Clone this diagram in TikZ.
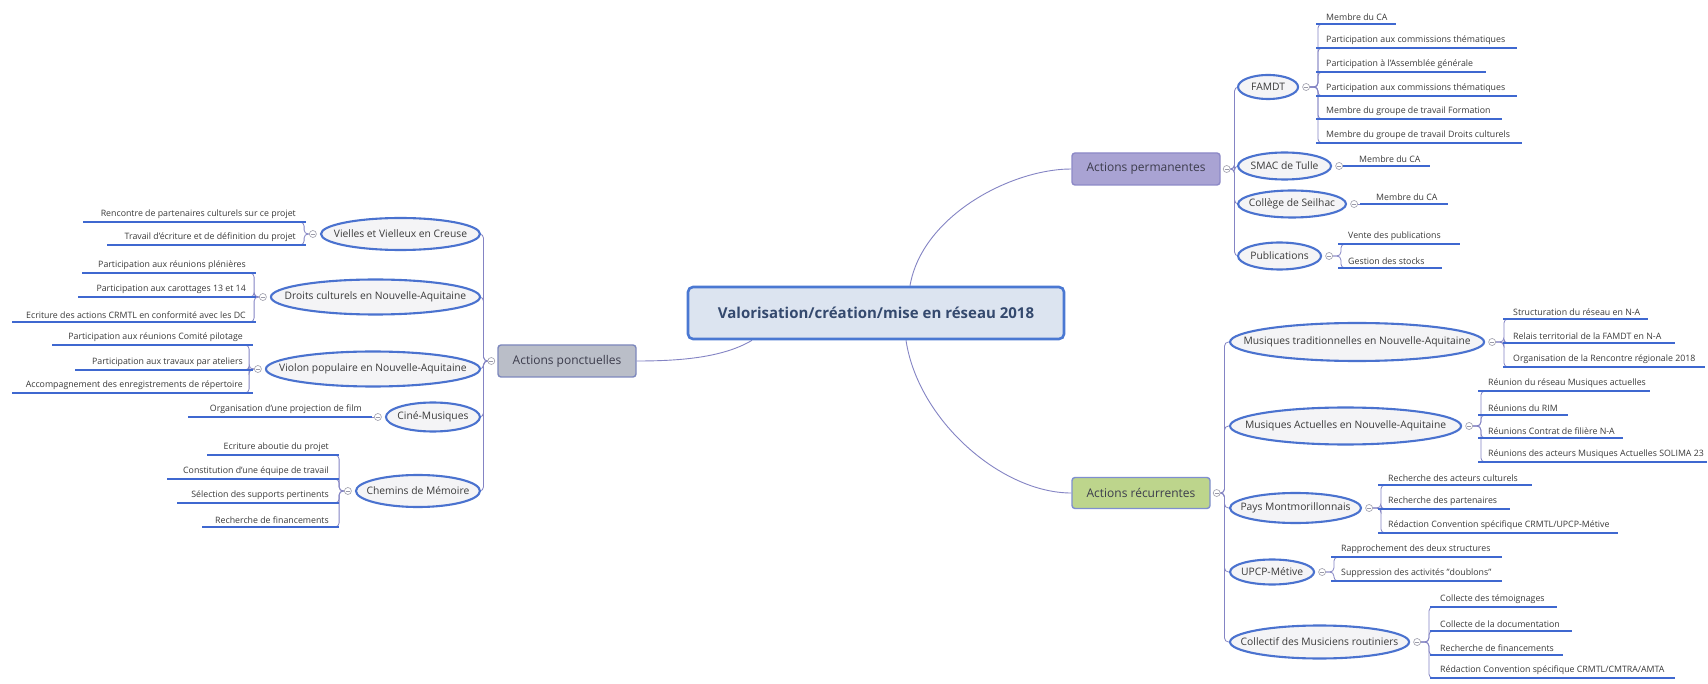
\documentclass[tikz,border=0pt]{standalone}
\usepackage{fontspec}
\setmainfont{Open Sans}
\usetikzlibrary{shapes.geometric}
\definecolor{ellblue}{HTML}{4A72CF}
\definecolor{ulblue}{HTML}{3F68D0}
\definecolor{connc}{HTML}{8484C4}
\definecolor{collgray}{HTML}{9A9AA8}
\definecolor{ellfill}{HTML}{F4F4F6}
\definecolor{cfill}{HTML}{DCE4F0}
\definecolor{cdraw}{HTML}{4A78D2}
\definecolor{ctext}{HTML}{34496E}
\definecolor{permfill}{HTML}{A9A3D3}
\definecolor{permdraw}{HTML}{8D89C7}
\definecolor{recfill}{HTML}{BDD58C}
\definecolor{recdraw}{HTML}{7F8FCF}
\definecolor{ponfill}{HTML}{BABEC8}
\definecolor{pondraw}{HTML}{7D88BD}
\definecolor{btext}{HTML}{3C3C4C}
\definecolor{ltext}{HTML}{3A3A3A}
\pgfdeclarelayer{back}
\pgfdeclarelayer{bg}
\pgfsetlayers{back,bg,main}
\newcommand\zb[1]{\makebox[0pt]{#1}}
\newcommand\leafR[5]{%
  \node[leaf, anchor=south west] (#1) at (#2+8,#4) {#5};
  \draw[uline] (#2,#4) -- (#3,#4);}
\newcommand\leafL[5]{%
  \node[leaf, anchor=south east] (#1) at (#3-8,#4) {#5};
  \draw[uline] (#2,#4) -- (#3,#4);}
\begin{document}
\begin{tikzpicture}[x=1pt,y=-1pt,
  central/.style={draw=cdraw, line width=2.6pt, fill=cfill, rounded corners=5pt,
    minimum width=376pt, minimum height=52pt, inner sep=0pt,
    font=\fontsize{15}{18}\selectfont\bfseries, text=ctext},
  branch/.style={line width=1.4pt, rounded corners=3pt, inner sep=0pt,
    font=\fontsize{12}{14}\selectfont, text=btext},
  ell/.style={ellipse, draw=ellblue, line width=2.1pt, fill=ellfill, inner sep=0pt,
    font=\fontsize{10.3}{12}\selectfont, text=ltext},
  leaf/.style={inner xsep=2pt, inner ysep=3.5pt, font=\fontsize{8.8}{10}\selectfont, text=ltext},
  uline/.style={draw=ulblue, line width=1.8pt},
  conn/.style={draw=connc, line width=0.8pt, rounded corners=4pt},
  mconn/.style={draw=connc, line width=0.9pt},
  coll/.style={circle, draw=collgray, fill=white, line width=0.6pt, minimum size=7pt, inner sep=0pt,
    path picture={\draw[collgray, line width=0.5pt] ([xshift=-2pt]path picture bounding box.center) -- ([xshift=2pt]path picture bounding box.center);}}
]
\useasboundingbox (0,0) rectangle (1708,684);
\begin{pgfonlayer}{back}
\fill[white] (0,0) rectangle (1708,684);
\end{pgfonlayer}

% central and main branches
\node[central] (c) at (876,313) {Valorisation/création/mise en réseau 2018};
\node[branch, draw=permdraw, fill=permfill, minimum width=148pt, minimum height=32pt] (ap) at (1146,169) {Actions permanentes};
\node[branch, draw=recdraw, fill=recfill, minimum width=138pt, minimum height=31pt] (ar) at (1141,493) {Actions récurrentes};
\node[branch, draw=pondraw, fill=ponfill, minimum width=138pt, minimum height=32pt] (apn) at (567,361) {Actions ponctuelles};
\node[coll] (apc) at ([xshift=6pt]ap.east) {};
\node[coll] (arc) at ([xshift=6pt]ar.east) {};
\node[coll] (apnc) at ([xshift=-6pt]apn.west) {};

% ---- Actions permanentes children
\node[ell, minimum width=60pt, minimum height=24pt, anchor=west] (famdt) at (1237,87) {\zb{FAMDT}};
\node[ell, minimum width=93pt, minimum height=27pt, anchor=west] (smac) at (1237,166) {\zb{SMAC de Tulle}};
\node[ell, minimum width=108pt, minimum height=27pt, anchor=west] (coll) at (1237,204) {\zb{Collège de Seilhac}};
\node[ell, minimum width=83pt, minimum height=27pt, anchor=west] (pub) at (1237,256) {\zb{Publications}};
\foreach \e in {famdt,smac,coll,pub} \node[coll] (\e c) at ([xshift=7pt]\e.east) {};

\leafR{f1}{1316}{1396}{24}{Membre du CA}
\leafR{f2}{1316}{1517}{48}{Participation aux commissions thématiques}
\leafR{f3}{1316}{1486}{72}{Participation à l'Assemblée générale}
\leafR{f4}{1316}{1517}{96}{Participation aux commissions thématiques}
\leafR{f5}{1316}{1502}{119}{Membre du groupe de travail Formation}
\leafR{f6}{1316}{1522}{143}{Membre du groupe de travail Droits culturels}
\leafR{s1}{1343}{1430}{166}{\hspace{6pt}Membre du CA}
\leafR{k1}{1360}{1448}{204}{\hspace{6pt}Membre du CA}
\leafR{p1}{1338}{1460}{244}{Vente des publications}
\leafR{p2}{1338}{1442}{268}{Gestion des stocks}

% ---- Actions récurrentes children
\node[ell, minimum width=254pt, minimum height=38pt, anchor=west] (mt) at (1229,342) {\zb{Musiques traditionnelles en Nouvelle-Aquitaine}};
\node[ell, minimum width=231pt, minimum height=37pt, anchor=west] (ma) at (1229,426) {\zb{Musiques Actuelles en Nouvelle-Aquitaine}};
\node[ell, minimum width=131pt, minimum height=30pt, anchor=west] (pm) at (1229,508) {\zb{Pays Montmorillonnais}};
\node[ell, minimum width=84pt, minimum height=25pt, anchor=west] (up) at (1229,572) {\zb{UPCP-Métive}};
\node[ell, minimum width=179pt, minimum height=33pt, anchor=west] (cm) at (1229,642) {\zb{Collectif des Musiciens routiniers}};
\foreach \e in {mt,ma,pm,up,cm} \node[coll] (\e c) at ([xshift=7pt]\e.east) {};

\leafR{mt1}{1503}{1648}{319}{Structuration du réseau en N-A}
\leafR{mt2}{1503}{1675}{343}{Relais territorial de la FAMDT en N-A}
\leafR{mt3}{1503}{1705}{367}{Organisation de la Rencontre régionale 2018}
\leafR{ma1}{1478}{1650}{391}{Réunion du réseau Musiques actuelles}
\leafR{ma2}{1478}{1568}{415}{Réunions du RIM}
\leafR{ma3}{1478}{1623}{438}{Réunions Contrat de filière N-A}
\leafR{ma4}{1478}{1707}{462}{Réunions des acteurs Musiques Actuelles SOLIMA 23}
\leafR{pm1}{1378}{1532}{485}{Recherche des acteurs culturels}
\leafR{pm2}{1378}{1510}{509}{Recherche des partenaires}
\leafR{pm3}{1378}{1618}{533}{Rédaction Convention spécifique CRMTL/UPCP-Métive}
\leafR{up1}{1331}{1502}{557}{Rapprochement des deux structures}
\leafR{up2}{1331}{1502}{581}{Suppression des activités "doublons"}
\leafR{cm1}{1430}{1557}{607}{Collecte des témoignages}
\leafR{cm2}{1430}{1572}{631}{Collecte de la documentation}
\leafR{cm3}{1430}{1563}{655}{Recherche de financements}
\leafR{cm4}{1430}{1675}{678}{Rédaction Convention spécifique CRMTL/CMTRA/AMTA}

% ---- Actions ponctuelles children
\node[ell, minimum width=159pt, minimum height=32pt, anchor=east] (vv) at (481,234) {\zb{Vielles et Vielleux en Creuse}};
\node[ell, minimum width=209pt, minimum height=35pt, anchor=east] (dc) at (481,297) {\zb{Droits culturels en Nouvelle-Aquitaine}};
\node[ell, minimum width=214pt, minimum height=35pt, anchor=east] (vp) at (481,369) {\zb{Violon populaire en Nouvelle-Aquitaine}};
\node[ell, minimum width=94pt, minimum height=29pt, anchor=east] (cn) at (481,417) {\zb{Ciné-Musiques}};
\node[ell, minimum width=124pt, minimum height=32pt, anchor=east] (ch) at (481,491) {\zb{Chemins de Mémoire}};
\foreach \e in {vv,dc,vp,cn,ch} \node[coll] (\e c) at ([xshift=-7pt]\e.west) {};

\leafL{vv1}{83}{306}{222}{Rencontre de partenaires culturels sur ce projet}
\leafL{vv2}{107}{306}{245}{Travail d'écriture et de définition du projet}
\leafL{dc1}{82}{256}{273}{Participation aux réunions plénières}
\leafL{dc2}{78}{256}{297}{Participation aux carottages 13 et 14}
\leafL{dc3}{12}{256}{322}{Ecriture des actions CRMTL en conformité avec les DC}
\leafL{vp1}{52}{253}{345}{Participation aux réunions Comité pilotage}
\leafL{vp2}{75}{253}{370}{Participation aux travaux par ateliers}
\leafL{vp3}{12}{253}{393}{Accompagnement des enregistrements de répertoire}
\leafL{cn1}{188}{372}{417}{Organisation d'une projection de film\hspace{12pt}}
\leafL{ch1}{207}{339}{455}{Ecriture aboutie du projet}
\leafL{ch2}{167}{339}{479}{Constitution d'une équipe de travail}
\leafL{ch3}{177}{339}{503}{Sélection des supports pertinents}
\leafL{ch4}{202}{339}{527}{Recherche de financements}

% ---- connectors
\begin{pgfonlayer}{bg}
\draw[mconn] ([xshift=34pt]c.north) .. controls +(12,-70) and +(-60,0) .. (ap.west);
\draw[mconn] ([xshift=30pt]c.south) .. controls +(12,80) and +(-70,0) .. (ar.west);
\draw[mconn] ([xshift=-124pt]c.south) .. controls +(-30,18) and +(40,0) .. (apn.east);
\foreach \e in {famdt,smac,coll,pub} \draw[conn] (apc.east) -- ++(4,0) |- (\e.west);
\foreach \e in {mt,ma,pm,up,cm} \draw[conn] (arc.east) -- ++(4,0) |- (\e.west);
\foreach \e in {vv,dc,vp,cn,ch} \draw[conn] (apnc.west) -- ++(-4,0) |- (\e.east);
\foreach \l in {f1,f2,f3,f4,f5,f6} \draw[conn] (famdtc.east) -- ++(8,0) |- (\l.south west);
\draw[conn] (smacc.east) -- (s1.south west);
\draw[conn] (collc.east) -- (k1.south west);
\foreach \l in {p1,p2} \draw[conn] (pubc.east) -- ++(8,0) |- (\l.south west);
\foreach \l in {mt1,mt2,mt3} \draw[conn] (mtc.east) -- ++(8,0) |- (\l.south west);
\foreach \l in {ma1,ma2,ma3,ma4} \draw[conn] (mac.east) -- ++(8,0) |- (\l.south west);
\foreach \l in {pm1,pm2,pm3} \draw[conn] (pmc.east) -- ++(8,0) |- (\l.south west);
\foreach \l in {up1,up2} \draw[conn] (upc.east) -- ++(8,0) |- (\l.south west);
\foreach \l in {cm1,cm2,cm3,cm4} \draw[conn] (cmc.east) -- ++(8,0) |- (\l.south west);
\foreach \l in {vv1,vv2} \draw[conn] (vvc.west) -- ++(-5,0) |- (\l.south east);
\foreach \l in {dc1,dc2,dc3} \draw[conn] (dcc.west) -- ++(-5,0) |- (\l.south east);
\foreach \l in {vp1,vp2,vp3} \draw[conn] (vpc.west) -- ++(-5,0) |- (\l.south east);
\draw[conn] (cnc.west) -- (cn1.south east);
\foreach \l in {ch1,ch2,ch3,ch4} \draw[conn] (chc.west) -- ++(-5,0) |- (\l.south east);
\end{pgfonlayer}
\end{tikzpicture}
\end{document}
